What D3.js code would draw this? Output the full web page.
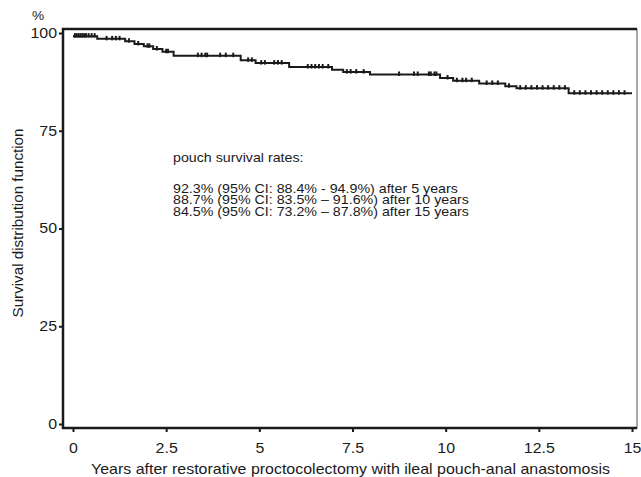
<!DOCTYPE html>
<html>
<head>
<meta charset="utf-8">
<script src="https://cdn.jsdelivr.net/npm/d3@7"></script>
<style>
  body { margin: 0; background: #fff; }
  svg { display: block; font-family: "Liberation Sans", Arial, Helvetica, sans-serif; }
</style>
</head>
<body>
<div id="chart"></div>
<script>
// Kaplan-Meier pouch survival curve
(() => {

// step times (years) and survival (%) right after each step
const stepTimes = [0, 0.65, 1.4, 1.65, 1.9, 2.15, 2.4, 2.7, 4.5, 4.9, 5.8, 6.95, 7.25, 7.97, 9.85, 10.2, 10.9, 11.6, 11.9, 13.3];
const stepSurv  = [99.2, 98.5, 97.9, 97.2, 96.6, 95.9, 95.2, 94.2, 93.0, 92.3, 91.3, 90.6, 90.0, 89.4, 88.5, 87.8, 87.1, 86.4, 85.9, 84.6];
const endTime = 15;

// censored observations (years)
const censorTimes = [
  0.05, 0.1, 0.15, 0.2, 0.25, 0.3, 0.35, 0.42, 0.5, 0.58,
  0.9, 1.05, 1.15, 1.25, 1.5, 1.75, 2.0, 2.05, 2.25, 2.5, 2.55,
  3.35, 3.45, 3.55, 3.6, 3.95, 4.1, 4.3, 4.7, 4.8, 5.05, 5.15,
  5.4, 5.5, 5.6, 6.3, 6.4, 6.5, 6.6, 6.7, 6.85, 7.35, 7.45, 7.6, 7.8,
  8.75, 9.15, 9.25, 9.55, 9.6, 9.7, 9.75, 10.05, 10.3, 10.45, 10.55, 10.7,
  11.1, 11.25, 11.4, 11.7, 12.0, 12.15, 12.3, 12.45, 12.6, 12.75, 12.9, 13.05, 13.2,
  13.45, 13.6, 13.75, 13.9, 14.05, 14.2, 14.35, 14.5, 14.65, 14.8
];

const xTicks = [0, 2.5, 5, 7.5, 10, 12.5, 15];
const yTicks = [0, 25, 50, 75, 100];

const annotation = [
  "pouch survival rates:",
  "",
  "92.3% (95% CI: 88.4% - 94.9%) after 5 years",
  "88.7% (95% CI: 83.5% \u2013 91.6%) after 10 years",
  "84.5% (95% CI: 73.2% \u2013 87.8%) after 15 years"
];

const W = 641, H = 477;
const box = { left: 63, right: 637, top: 29, bottom: 428 };
const stretch = 1.14; // text in the original is a bit wide

const svg = d3.select("#chart").append("svg")
  .attr("width", W)
  .attr("height", H);

const x = d3.scaleLinear().domain([0, 15]).range([73, 632]);
const y = d3.scaleLinear().domain([0, 100]).range([424, 33]);

const ink = "#1a1a1a";

// frame
svg.append("rect")
  .attr("x", box.left).attr("y", box.top)
  .attr("width", box.right - box.left).attr("height", box.bottom - box.top)
  .attr("fill", "none").attr("stroke", "#555").attr("stroke-width", 1);
svg.append("path")
  .attr("d", `M${box.right},${box.top}H${box.left}V${box.bottom}H${box.right}`)
  .attr("fill", "none").attr("stroke", ink).attr("stroke-width", 2.5);

// Y axis
const yAxis = svg.append("g")
  .attr("transform", `translate(${box.left - 1},0)`)
  .call(d3.axisLeft(y).tickValues(yTicks).tickSize(3));
yAxis.select(".domain").remove();
yAxis.selectAll("line").attr("stroke", ink).attr("stroke-width", 2);
yAxis.selectAll("text")
  .attr("x", 0)
  .attr("transform", `translate(-5,0) scale(${stretch},1)`)
  .attr("font-size", 14).attr("fill", ink)
  .attr("font-family", "'Liberation Sans', Arial, sans-serif");

// X axis
const xAxis = svg.append("g")
  .attr("transform", `translate(0,${box.bottom + 1})`)
  .call(d3.axisBottom(x).tickValues(xTicks).tickSize(3).tickPadding(11)
    .tickFormat(d => String(d)));
xAxis.select(".domain").remove();
xAxis.selectAll("line").attr("stroke", ink).attr("stroke-width", 2);
xAxis.selectAll("text")
  .attr("transform", `scale(${stretch},1)`)
  .attr("font-size", 14).attr("fill", ink)
  .attr("font-family", "'Liberation Sans', Arial, sans-serif");

// labels
svg.append("text")
  .attr("transform", `translate(38,20) scale(${stretch},1)`)
  .attr("text-anchor", "middle")
  .attr("font-size", 12).attr("fill", ink)
  .text("%");

svg.append("text")
  .attr("transform", `translate(${(x(0) + x(15)) / 2 - 2},474) scale(${stretch},1)`)
  .attr("text-anchor", "middle")
  .attr("font-size", 14).attr("fill", ink)
  .text("Years after restorative proctocolectomy with ileal pouch-anal anastomosis");

svg.append("text")
  .attr("transform", `translate(23,223) rotate(-90) scale(1.085,1)`)
  .attr("text-anchor", "middle")
  .attr("font-size", 14).attr("fill", ink)
  .text("Survival distribution function");

// KM step curve
const km = stepTimes.map((t, i) => ({ t, s: stepSurv[i] }));
km.push({ t: endTime, s: stepSurv[stepSurv.length - 1] });

const line = d3.line()
  .x(d => x(d.t))
  .y(d => y(d.s))
  .curve(d3.curveStepAfter);

svg.append("path")
  .datum(km)
  .attr("fill", "none")
  .attr("stroke", ink)
  .attr("stroke-width", 2)
  .attr("d", line);

// censor ticks
const survAt = t => {
  let s = stepSurv[0];
  stepTimes.forEach((st, i) => { if (st <= t) s = stepSurv[i]; });
  return s;
};
svg.append("g").selectAll("line")
  .data(censorTimes)
  .join("line")
  .attr("x1", d => x(d)).attr("x2", d => x(d))
  .attr("y1", d => y(survAt(d)) - 3)
  .attr("y2", d => y(survAt(d)) + 1.5)
  .attr("stroke", ink)
  .attr("stroke-width", 2);

// annotation
annotation.forEach((l, i) => {
  if (!l) return;
  const yy = 162 + (i === 0 ? 0 : 19 + (i - 1) * 11.5);
  svg.append("text")
    .attr("transform", `translate(173,${yy}) scale(${stretch},1)`)
    .attr("font-size", 12.5).attr("fill", ink)
    .text(l);
});

})();
</script>
</body>
</html>
